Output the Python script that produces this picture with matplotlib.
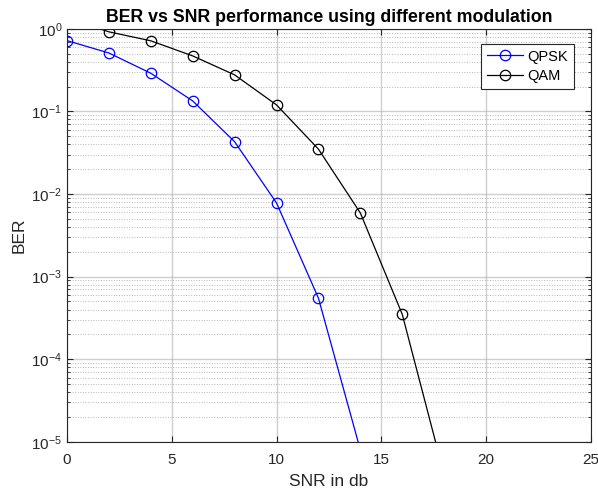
import numpy as np
import matplotlib.pyplot as plt
from matplotlib.ticker import LogLocator, NullFormatter

plt.rcParams['font.family'] = ['Liberation Sans', 'DejaVu Sans']
plt.rcParams['mathtext.fontset'] = 'custom'
plt.rcParams['mathtext.rm'] = 'Liberation Sans'
plt.rcParams['mathtext.it'] = 'Liberation Sans'
plt.rcParams['mathtext.default'] = 'regular'
plt.rcParams['axes.unicode_minus'] = False

# BER mesuré pour chaque modulation
snr_qpsk = [0, 2, 4, 6, 8, 10, 12, 14]
ber_qpsk = [0.72, 0.51, 0.29, 0.134, 0.043, 0.0078, 0.00055, 8e-6]
snr_qam = [0, 2, 4, 6, 8, 10, 12, 14, 16, 18]
ber_qam = [1.35, 0.92, 0.716, 0.47, 0.277, 0.12, 0.035, 0.0059, 0.00035, 4e-6]

fig = plt.figure(figsize=(5.98, 4.97), dpi=100)
ax = fig.add_axes([0.112, 0.111, 0.876, 0.831])

ax.semilogy(snr_qpsk, ber_qpsk, '-o', color=(0, 0, 1), lw=0.9,
            mfc='none', mec=(0, 0, 1), ms=7.5, mew=0.9, label='QPSK')
ax.semilogy(snr_qam, ber_qam, '-o', color='black', lw=0.9,
            mfc='none', mec='black', ms=7.5, mew=0.9, label='QAM')

ax.set_xlim(0, 25)
ax.set_ylim(1e-5, 1)
ax.set_xticks([0, 5, 10, 15, 20, 25])
ax.yaxis.set_major_locator(LogLocator(base=10, numticks=10))
ax.yaxis.set_minor_locator(LogLocator(base=10, subs=np.arange(2, 10), numticks=20))
ax.yaxis.set_minor_formatter(NullFormatter())

# grille façon MATLAB (majeure + mineure)
ax.grid(True, which='major', color='#b0b0b0', lw=1.0, alpha=0.6)
ax.grid(True, which='minor', axis='y', color='#b0b0b0', lw=0.7, ls=':', alpha=0.9)
ax.set_axisbelow(True)

ax.tick_params(which='both', direction='in', top=True, right=True,
               labelsize=11, colors='#262626')
ax.tick_params(which='major', length=4)
ax.tick_params(axis='x', which='major', pad=8)
ax.tick_params(which='minor', length=2.5)
for s in ax.spines.values():
    s.set_color('#262626')
    s.set_linewidth(0.8)

ax.set_xlabel('SNR in db', fontsize=12.5, color='#262626', labelpad=5)
ax.set_ylabel('BER', fontsize=12.5, color='#262626', labelpad=3)
ax.set_title('BER vs SNR performance using different modulation',
             fontsize=12.8, fontweight='bold', pad=5)

leg = ax.legend(loc='upper right', bbox_to_anchor=(0.968, 0.964), fontsize=10.5,
                fancybox=False, edgecolor='#262626', framealpha=1,
                borderaxespad=0, handlelength=2.5, handletextpad=0.3,
                borderpad=0.4, labelspacing=0.4)
leg.get_frame().set_linewidth(0.8)

fig.savefig('out.png', dpi=100)
